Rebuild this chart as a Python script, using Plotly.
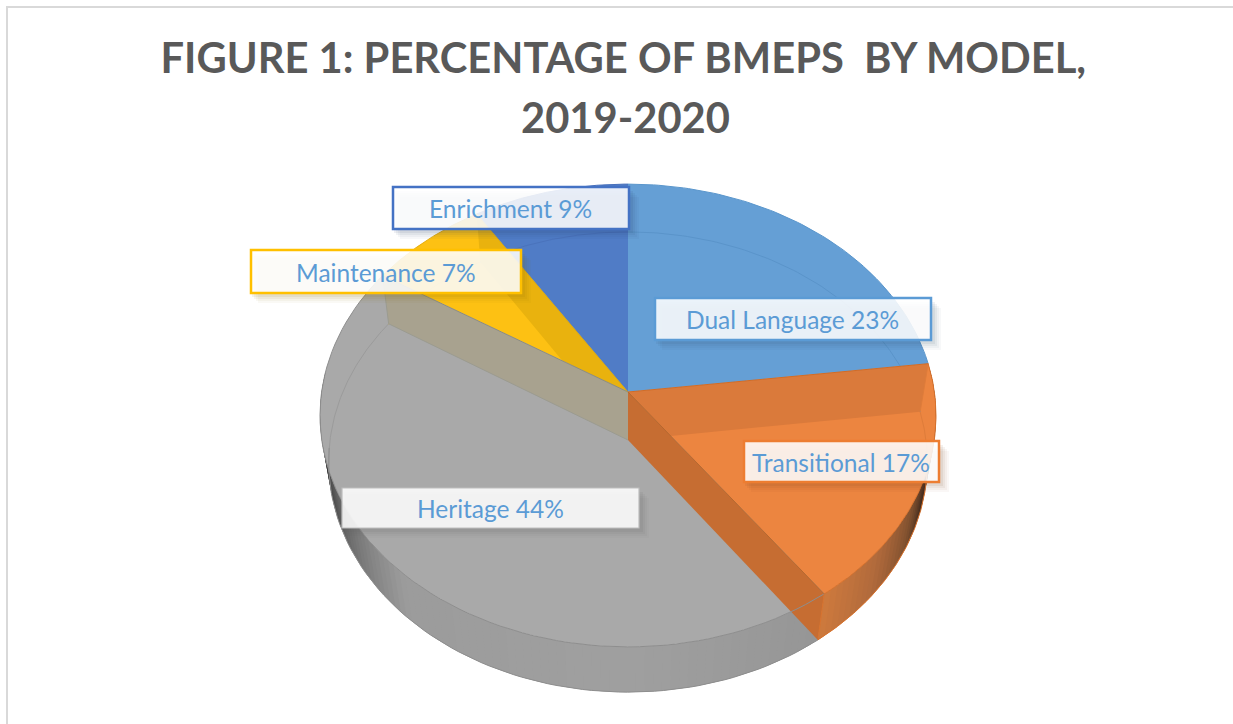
import numpy as np
import plotly.graph_objects as go

categories = ["Dual Language", "Transitional", "Heritage", "Maintenance", "Enrichment"]
values = [23, 17, 44, 7, 9]
title_lines = ["FIGURE 1: PERCENTAGE OF BMEPS\u00a0 BY MODEL,", "2019-2020"]

top_colors = ["#659FD5", "#EC8540", "#A9A9A9", "#FDC113", "#507CC6"]
border_colors = ["#5B9BD5", "#ED7D31", "#BDBDBD", "#FFC000", "#4472C4"]
border_widths = [2.5, 2.5, 1.2, 2.5, 2.5]
edge_colors = ["#5A96CC", "#D9722C", "#8E8E8E", "#E5AE10", "#4870BB"]
ghost_colors = ["#5A94CA", "#DE7C3A", "#9B9B9B", "#E9B20E", "#4A73BC"]
label_boxes = [(655, 298, 931, 340), (744, 441, 939, 482), (342, 488, 639, 528),
               (251, 250, 521, 293), (393, 187, 629, 229)]
TEXT_COLOR = "#5B9BD5"
FONT = "Lato"

# projection of the tilted disc (top face and bottom face) into screen pixels
CX = 628.0
TOP = dict(cy=392.0, a=306.4, b=229.0, k=0.1015)
BOT = dict(cy=440.0, a=298.0, b=228.0, k=0.0957)


def project(theta, face):
    u, v = np.sin(theta), np.cos(theta)
    w = 1 + face["k"] * v
    return CX + face["a"] * u / w, face["cy"] - face["b"] * v / w


def arc(t0, t1, face, n=80):
    return project(np.linspace(t0, t1, n), face)


def intersect(p1, p2, p3, p4):
    a = np.array([[p2[0] - p1[0], p3[0] - p4[0]], [p2[1] - p1[1], p3[1] - p4[1]]], float)
    b = np.array([p3[0] - p1[0], p3[1] - p1[1]], float)
    s = np.linalg.solve(a, b)[0]
    return p1[0] + s * (p2[0] - p1[0]), p1[1] + s * (p2[1] - p1[1])


fractions = np.cumsum([0] + values) / sum(values)
angles = 2 * np.pi * fractions
apex_t = (CX, TOP["cy"])
apex_b = (CX, BOT["cy"])

fig = go.Figure()


def poly(xs, ys, fill, line=None, width=0.0):
    fig.add_trace(go.Scatter(
        x=list(xs), y=list(ys), mode="lines", fill="toself", fillcolor=fill,
        line=dict(color=line or fill, width=width if line else 0),
        hoverinfo="skip", showlegend=False))


def stroke(xs, ys, color, width=1.0):
    fig.add_trace(go.Scatter(
        x=list(xs), y=list(ys), mode="lines", line=dict(color=color, width=width),
        hoverinfo="skip", showlegend=False))


def ramp(deg, stops):
    d = [s[0] for s in stops]
    c = np.array([s[1] for s in stops], float)
    return "rgb(%d,%d,%d)" % tuple(int(np.interp(deg, d, c[:, i])) for i in range(3))


orange_ramp = [(96, (50, 36, 24)), (110, (74, 48, 32)), (118, (130, 82, 48)),
               (130, (176, 106, 60)), (144, (206, 122, 62))]
gray_ramp = [(144, (150, 150, 150)), (180, (160, 160, 160)), (223, (156, 156, 156)),
             (242, (110, 110, 110)), (255, (64, 64, 64)), (275, (40, 40, 40))]

# outer side wall, front half, in thin shaded strips
for idx, stops, lo, hi in [(1, orange_ramp, np.degrees(angles[1]), np.degrees(angles[2])),
                           (2, gray_ramp, np.degrees(angles[2]), 275.0)]:
    edges = np.linspace(lo, hi, int((hi - lo) / 1.5) + 1)
    for d0, d1 in zip(edges[:-1], edges[1:]):
        xt, yt = arc(np.radians(d0), np.radians(min(d1 + 1.5, hi)), TOP, 4)
        xb, yb = arc(np.radians(d0), np.radians(min(d1 + 1.5, hi)), BOT, 4)
        poly(np.r_[xt, xb[::-1]], np.r_[yt, yb[::-1]], ramp((d0 + d1) / 2, stops))

# top face slices
for i in range(len(values)):
    xa, ya = arc(angles[i], angles[i + 1], TOP)
    poly(np.r_[CX, xa, CX], np.r_[TOP["cy"], ya, TOP["cy"]], top_colors[i])

# bottom face edge, seen through the translucent top
for i, (t0, t1) in enumerate([(angles[0], angles[1]), (angles[1], np.radians(103)),
                              (np.radians(262), angles[3]), (angles[3], angles[4]),
                              (angles[4], angles[5])]):
    xa, ya = arc(t0, t1, BOT)
    stroke(xa, ya, ghost_colors[i], 1)

# inner radial walls, seen through the top
r23t, r23b = project(angles[1], TOP), project(angles[1], BOT)
r40t, r40b = project(angles[2], TOP), project(angles[2], BOT)
r84t, r84b = project(angles[3], TOP), project(angles[3], BOT)
r91t, r91b = project(angles[4], TOP), project(angles[4], BOT)

p = intersect(apex_b, r23b, apex_t, r40t)
poly([apex_t[0], r23t[0], r23b[0], p[0]], [apex_t[1], r23t[1], r23b[1], p[1]], "#DA7A3B")
p = intersect(apex_b, r91b, apex_t, r84t)
poly([apex_t[0], r91t[0], r91b[0], p[0]], [apex_t[1], r91t[1], r91b[1], p[1]], "#E9B20E")
poly([apex_t[0], r84t[0], r84b[0], apex_b[0]], [apex_t[1], r84t[1], r84b[1], apex_b[1]], "#A8A28F")
poly([apex_t[0], r40t[0], r40b[0], apex_b[0]], [apex_t[1], r40t[1], r40b[1], apex_b[1]], "#C66D32")

# rims and slice edges
for i in range(len(values)):
    xa, ya = arc(angles[i], angles[i + 1], TOP)
    stroke(xa, ya, edge_colors[i], 1)
stroke([CX, r23t[0]], [TOP["cy"], r23t[1]], "#CF6C28", 1)
stroke([CX, r40t[0]], [TOP["cy"], r40t[1]], "#B5682F", 1)
stroke([CX, r84t[0]], [TOP["cy"], r84t[1]], "#8D8D80", 1)
stroke([CX, r91t[0]], [TOP["cy"], r91t[1]], "#C89A14", 0.6)
stroke([r23t[0], r23b[0]], [r23t[1], r23b[1]], "#DE7C3A", 1)
stroke([r40t[0], r40b[0]], [r40t[1], r40b[1]], "#D9722C", 1)
stroke([r84t[0], r84b[0], apex_b[0]], [r84t[1], r84b[1], apex_b[1]], "#9B9B90", 1)
xb, yb = arc(angles[2], np.radians(268), BOT)
stroke(xb, yb, "#8E8E8E", 1)
xb, yb = arc(angles[1] + 0.35, angles[2], BOT)
stroke(xb, yb, "#D9722C", 1)

shapes = [dict(type="rect", xref="x", yref="y", x0=7, y0=7, x1=1245, y1=740,
               line=dict(color="#D9D9D9", width=2), fillcolor="rgba(0,0,0,0)", layer="above")]
annotations = []
for name, val, box, col, bw in zip(categories, values, label_boxes, border_colors, border_widths):
    x0, y0, x1, y1 = box
    for off, alpha in [(10, 0.025), (8, 0.03), (6, 0.04), (4, 0.05)]:
        shapes.append(dict(type="rect", xref="x", yref="y", x0=x0 + off - 3, y0=y0 + off,
                           x1=x1 + off, y1=y1 + off, line=dict(width=0),
                           fillcolor="rgba(%d,%d,%d,%.3f)" % (*[int(col[j:j + 2], 16) // 2 for j in (1, 3, 5)], alpha * 1.6)))
    shapes.append(dict(type="rect", xref="x", yref="y", x0=x0, y0=y0, x1=x1, y1=y1,
                       line=dict(color=col, width=bw),
                       fillcolor="rgba(255,255,255,0.87)"))
    annotations.append(dict(x=(x0 + x1) / 2 - 0.5, y=(y0 + y1) / 2 + 0.5, xref="x", yref="y",
                            text=f"{name} {val}%", showarrow=False,
                            font=dict(family=FONT, size=24.5, color=TEXT_COLOR)))

annotations.append(dict(x=625, y=117, xref="x", yref="y", text=title_lines[1], showarrow=False,
                        font=dict(family=FONT, size=41.7, color="#595959", weight="bold")))

fig.update_layout(
    width=1233, height=724, margin=dict(l=0, r=0, t=0, b=0),
    paper_bgcolor="white", plot_bgcolor="white", showlegend=False,
    xaxis=dict(range=[0, 1233], visible=False, fixedrange=True),
    yaxis=dict(range=[724, 0], visible=False, fixedrange=True),
    title=dict(text=title_lines[0], x=0.5055, xanchor="center", y=1 - 58 / 724, yref="paper",
               yanchor="middle", font=dict(family=FONT, size=41.7, color="#595959", weight="bold")),
    shapes=shapes, annotations=annotations)

fig.write_html("out.html", post_script="document.body.style.margin='0';",
               config=dict(displayModeBar=False))
